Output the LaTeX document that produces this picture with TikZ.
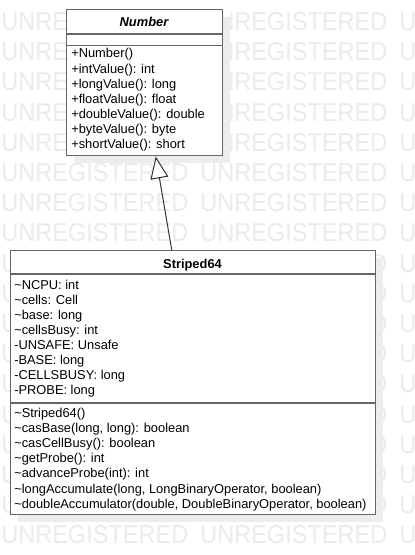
\documentclass[tikz,border=0pt]{standalone}
\usepackage{fontspec}
\setmainfont{Liberation Sans}
\usepackage{graphicx}
\usetikzlibrary{arrows.meta,shadows,calc}
\definecolor{wmgray}{gray}{0.92}
\definecolor{boxline}{gray}{0.4}
\definecolor{shadowgray}{gray}{0.93}
\tikzset{
  wm/.style={anchor=base west, inner sep=0pt, text=wmgray, font=\fontsize{19.4}{20}\selectfont},
  classbox/.style={draw=boxline, line width=1.1pt, fill=white, anchor=north west, inner sep=0pt,
    drop shadow={shadow xshift=5.25pt, shadow yshift=-5.25pt, fill=shadowgray, opacity=1}},
  sepline/.style={draw=boxline, line width=1.1pt},
  member/.style={anchor=base west, inner sep=0pt, font=\fontsize{9.65}{11}\selectfont},
  classtitle/.style={anchor=base, inner sep=0pt, font=\fontsize{9.65}{11}\selectfont\bfseries},
  inherit/.style={draw=black!80, line width=0.75pt, -{Triangle[open, length=16.5pt, width=13.5pt, fill=white]}}
}
\begin{document}
\begin{tikzpicture}[x=0.75pt, y=-0.75pt]
\useasboundingbox (0,0) rectangle (414,555);
\fill[white] (0,0) rectangle (414,555);
\begin{scope}
\clip (0,0) rectangle (414,555);
\foreach \r in {0,...,17}{
  \foreach \c in {0,1,2}{
    \node[wm] (wm-\r-\c) at ({1+199*\c},{30.5+30.2*\r}) {\scalebox{0.91}[1]{UNREGISTERED}};
  }
}
\end{scope}

% class boxes
\node[classbox, minimum width=117pt, minimum height=109.5pt] (num) at (66,9) {};
\node[classbox, minimum width=273.75pt, minimum height=198pt] (str) at (10,250) {};

% compartments
\draw[sepline] ($(num.north west)+(0,25)$) -- ($(num.north east)+(0,25)$);
\draw[sepline] ($(num.north west)+(0,36.5)$) -- ($(num.north east)+(0,36.5)$);
\draw[sepline] ($(str.north west)+(0,24)$) -- ($(str.north east)+(0,24)$);
\draw[sepline] ($(str.north west)+(0,153)$) -- ($(str.north east)+(0,153)$);

% titles
\node[classtitle] (numtitle) at (144,27) {\itshape Number};
\node[classtitle] (strtitle) at (192.5,268) {Striped64};

% Number methods
\foreach \t [count=\i] in {
  {+Number()},
  {+intValue(): int},
  {+longValue(): long},
  {+floatValue(): float},
  {+doubleValue(): double},
  {+byteValue(): byte},
  {+shortValue(): short}}{
  \node[member] (nm\i) at (71,{58+15.15*(\i-1)}) {\t};
}

% Striped64 attributes
\foreach \t [count=\i] in {
  {\textasciitilde NCPU: int},
  {\textasciitilde cells: Cell},
  {\textasciitilde base: long},
  {\textasciitilde cellsBusy: int},
  {-UNSAFE: Unsafe},
  {-BASE: long},
  {-CELLSBUSY: long},
  {-PROBE: long}}{
  \node[member] (sa\i) at (14,{289.5+15*(\i-1)}) {\t};
}

% Striped64 methods
\foreach \t [count=\i] in {
  {\textasciitilde Striped64()},
  {\textasciitilde casBase(long, long): boolean},
  {\textasciitilde casCellBusy(): boolean},
  {\textasciitilde getProbe(): int},
  {\textasciitilde advanceProbe(int): int},
  {\textasciitilde longAccumulate(long, LongBinaryOperator, boolean)},
  {\textasciitilde doubleAccumulator(double, DoubleBinaryOperator, boolean)}}{
  \node[member] (sm\i) at (14,{417.5+15.1*(\i-1)}) {\t};
}

% generalization
\draw[inherit] ($(str.north)+(-21.5,0)$) -- ($(num.south)+(11,0)$);
\end{tikzpicture}
\end{document}
